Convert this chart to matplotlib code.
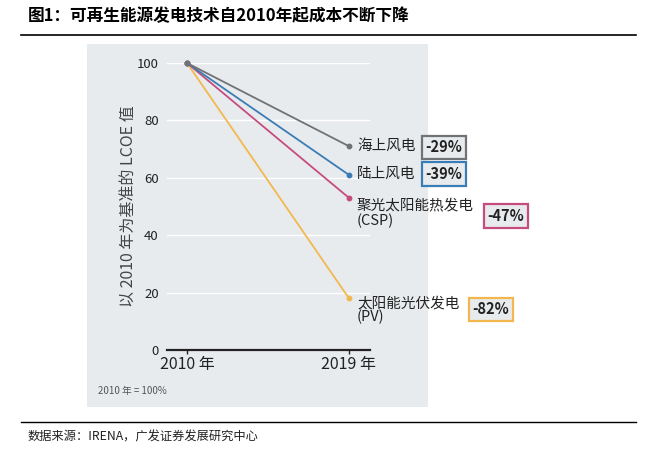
import matplotlib.pyplot as plt
from matplotlib.patches import Rectangle
from matplotlib.lines import Line2D

plt.rcParams['font.family'] = ['Noto Sans CJK SC', 'DejaVu Sans']

years = [2010, 2019]
series_names = ['海上风电', '陆上风电', '聚光太阳能热发电\n(CSP)', '太阳能光伏发电\n(PV)']
series_2019 = [71, 61, 53, 18]
changes = ['-29%', '-39%', '-47%', '-82%']
colors = ['#707275', '#3a7db5', '#c64c7e', '#f2b84f']
yticks = [0, 20, 40, 60, 80, 100]
xticklabels = ['2010 年', '2019 年']

W, H = 661, 451
panel = '#e8ebee'

fig = plt.figure(figsize=(W / 100, H / 100), dpi=100)


def fx(px):
    return px / W


def fy(py):
    return 1 - py / H


# grey panel behind the chart
fig.add_artist(Rectangle((fx(87), fy(407)), fx(428) - fx(87), fy(44) - fy(407),
                         transform=fig.transFigure, facecolor=panel,
                         edgecolor='none', zorder=0))

# title and rules
fig.text(fx(28), fy(16), '图1：可再生能源发电技术自2010年起成本不断下降',
         fontsize=12, fontweight='bold', va='center', ha='left')
fig.add_artist(Line2D([fx(21), fx(636)], [fy(35), fy(35)], color='black', lw=1.2,
                      transform=fig.transFigure))
fig.add_artist(Line2D([fx(21), fx(636)], [fy(422), fy(422)], color='black', lw=1.0,
                      transform=fig.transFigure))
fig.text(fx(28), fy(437), '数据来源：IRENA，广发证券发展研究中心',
         fontsize=8.8, va='center', ha='left', color='#222222')

ax = fig.add_axes([fx(167), fy(350), fx(370) - fx(167), fy(63) - fy(350)])
ax.set_facecolor(panel)
ax.set_xlim(2010 - 20 / 18, 2019 + 21 / 18)
ax.set_ylim(0, 100)

for t in yticks[1:]:
    ax.axhline(t, color='white', lw=1.0, zorder=1)

# draw in reverse so the grey line sits on top at the shared start point
for v, c in list(zip(series_2019, colors))[::-1]:
    ax.plot(years, [100, v], color=c, lw=1.3, marker='o', markersize=3.2,
            clip_on=False, zorder=3)

# labels next to the 2019 end points (offsets in pixels)
label_offsets = [(8, 0), (8, 1), (8, -16), (8, -12)]
box_offsets = [(95, -1), (95, 1), (157, -18), (142, -11)]
for name, v, ch, c, lo, bo in zip(series_names, series_2019, changes, colors,
                                  label_offsets, box_offsets):
    ax.annotate(name, (2019, v), xytext=lo, textcoords='offset pixels',
                ha='left', va='center', fontsize=10.5, color='#222222',
                linespacing=1.0)
    ax.annotate(ch, (2019, v), xytext=bo, textcoords='offset pixels',
                ha='center', va='center', fontsize=10.5, fontweight='bold',
                color='#222222',
                bbox=dict(boxstyle='square,pad=0.25', facecolor=panel,
                          edgecolor=c, lw=1.6))

ax.set_yticks(yticks)
ax.set_xticks(years)
ax.set_xticklabels(xticklabels, fontsize=11.5)
ax.tick_params(axis='y', length=0, labelsize=9.5, pad=6, colors='#222222')
ax.tick_params(axis='x', length=3, width=1, direction='out', pad=1,
               colors='#222222')
for s in ['top', 'right', 'left']:
    ax.spines[s].set_visible(False)
ax.spines['bottom'].set_linewidth(1.6)
ax.spines['bottom'].set_color('#222222')
ax.set_ylabel('以 2010 年为基准的 LCOE 值', fontsize=11.5, color='#444444',
              labelpad=0)

fig.text(fx(98), fy(391), '2010 年 = 100%', fontsize=7, color='#555555',
         va='center', ha='left')

fig.savefig('out.png', dpi=100)
